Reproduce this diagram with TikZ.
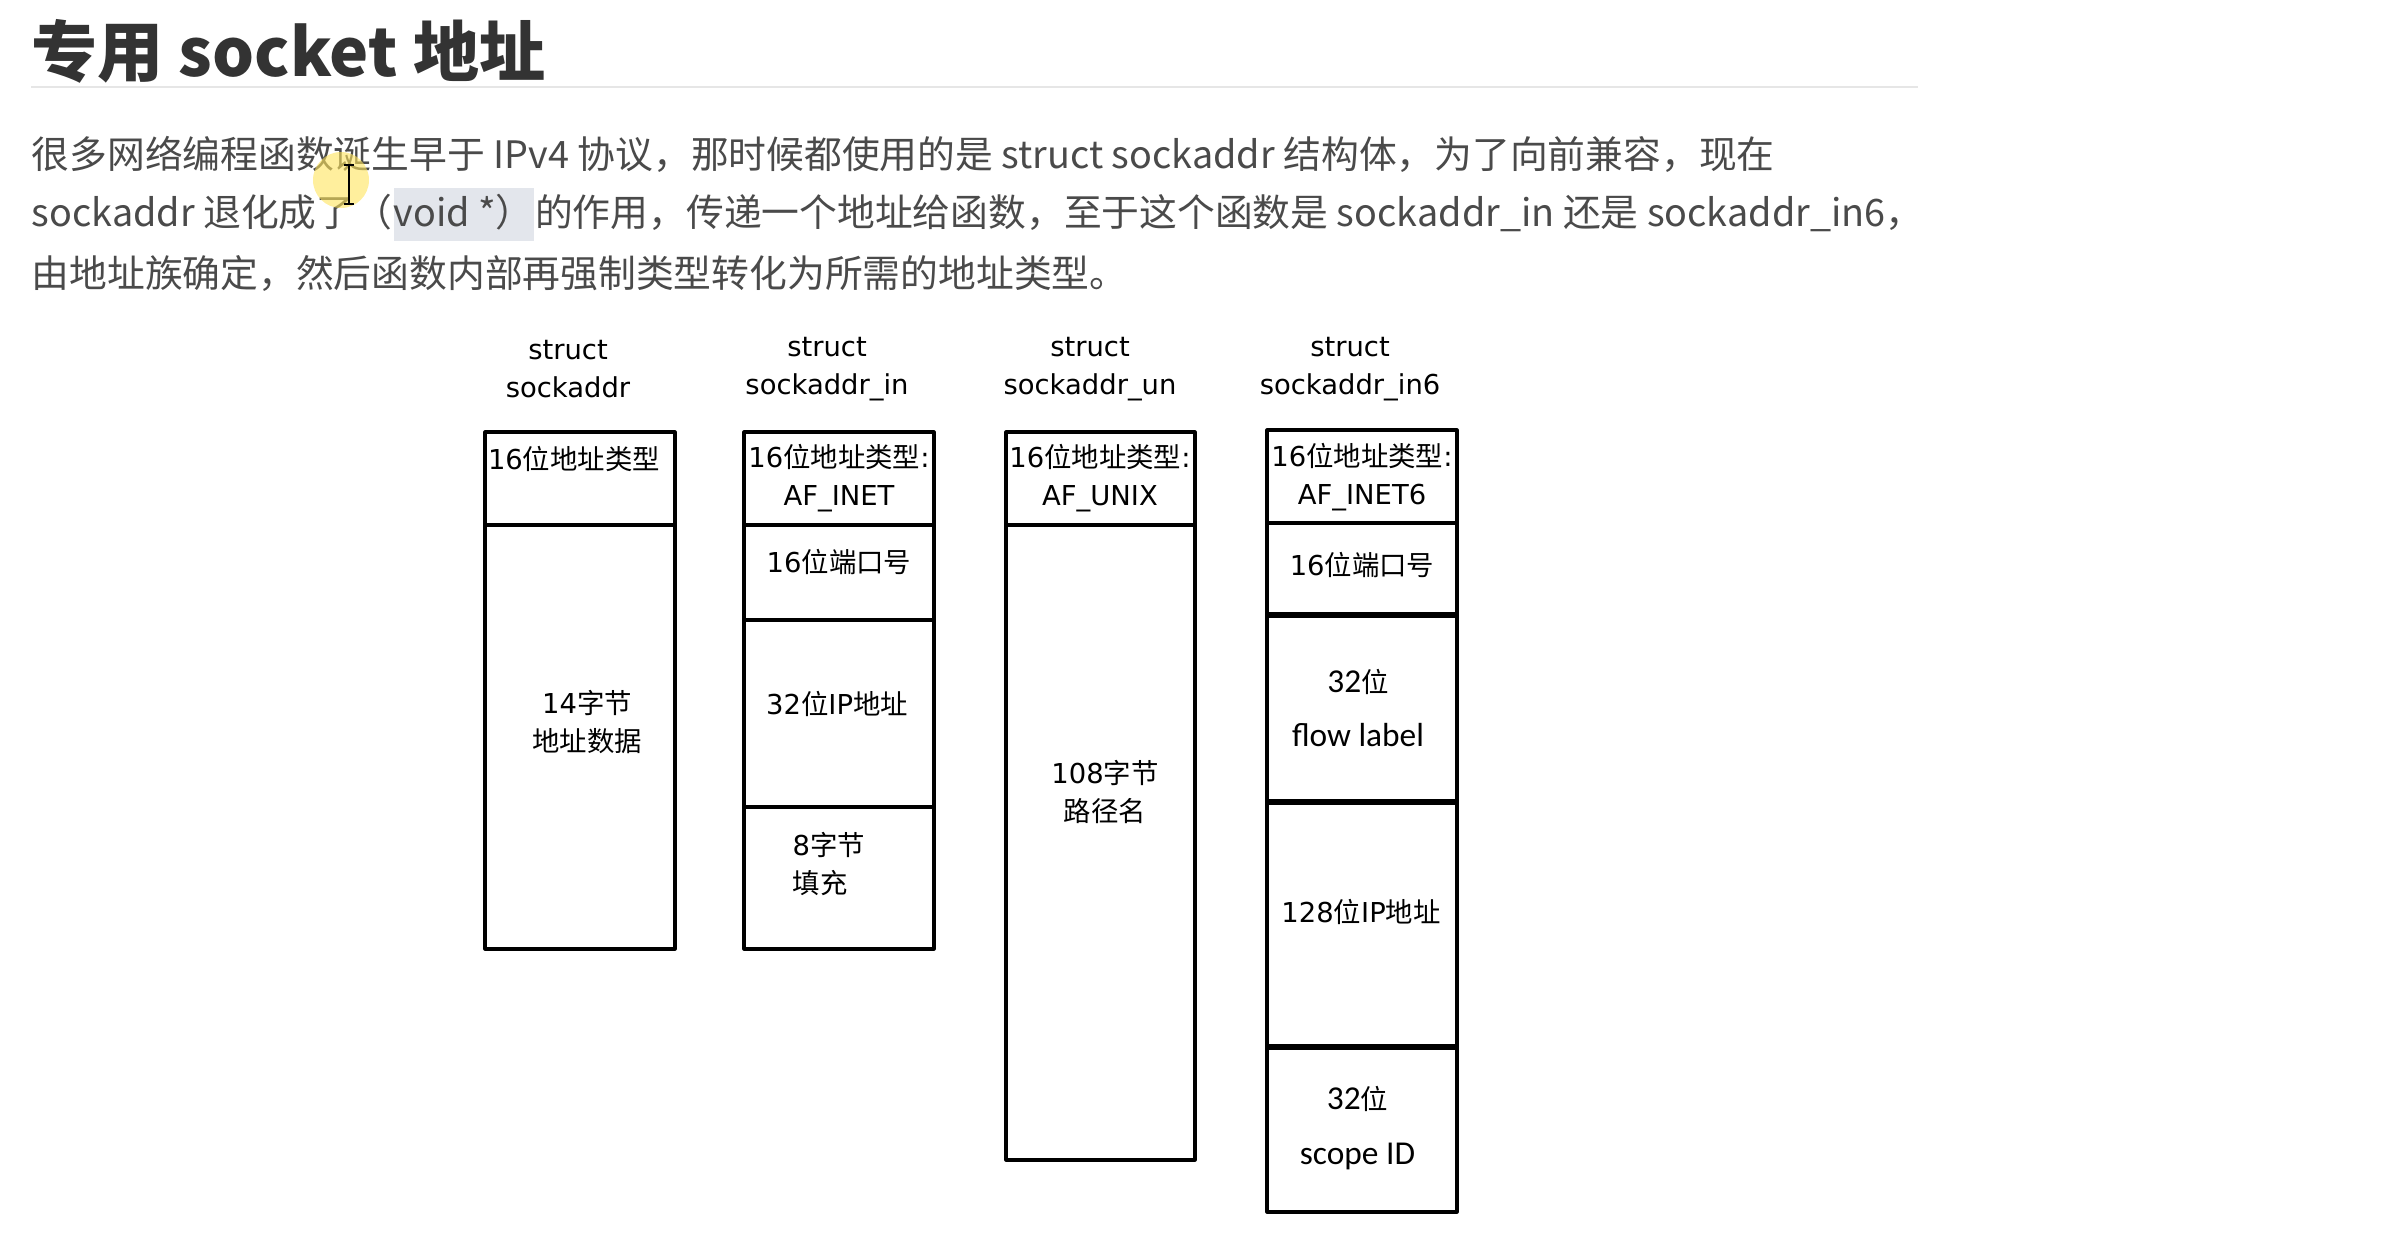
\documentclass[tikz,border=0pt]{standalone}
\usepackage{fontspec}
\setmainfont{DejaVu Sans}
\newfontfamily\zhfont{Noto Sans CJK SC}
\newfontfamily\calfont{Carlito}
\usepackage{xcolor}
\usepackage{tikz}
\usetikzlibrary{positioning}
\definecolor{titlegray}{HTML}{333333}
\definecolor{bodygray}{HTML}{4A4A4A}
\definecolor{rulegray}{HTML}{E6E6E6}
\definecolor{codebg}{HTML}{E3E6EC}
\definecolor{cursorglow}{HTML}{FFE45C}
\newcommand\zh[1]{{\zhfont #1}}
\newcommand\fieldfont{\fontsize{7.8}{10.8}\selectfont}
\newcommand\parafont{\zhfont\fontsize{10.75}{14}\selectfont}
\newcommand\calsize{\calfont\fontsize{9.5}{11}\selectfont}

\begin{document}
\begin{tikzpicture}[line join=round,
  para/.style={anchor=west,inner sep=0pt,text height=9.5pt,text depth=2.5pt,font=\parafont,text=bodygray},
  field/.style={align=center,inner sep=0pt,font=\fieldfont},
  frame/.style={line width=0.9pt},
  thickbar/.style={line width=1.5pt}]
  \useasboundingbox (0,0) rectangle (24,-12.34);
  \node[anchor=west,inner sep=0pt,font=\zhfont\bfseries\fontsize{18.8}{22}\selectfont,text=titlegray] (title) at (0.31,-0.51) {专用 socket 地址};
  \draw[rulegray,line width=0.6pt] (0.31,-0.87) -- (19.18,-0.87);
  \node[para] (p1) at (0.31,-1.56) {很多网络编程函数诞生早于 IPv4 协议，那时候都使用的是 struct sockaddr 结构体，为了向前兼容，现在};
  \node[para] (p2a) at (0.31,-2.14) {sockaddr 退化成了（};
  \node[para,fill=codebg,minimum height=0.53cm] (p2b) at (p2a.east) {void *）};
  \node[para] (p2c) at (p2b.east) {的作用，传递一个地址给函数，至于这个函数是 sockaddr\_in 还是 sockaddr\_in6，};
  \node[para] (p3) at (0.31,-2.75) {由地址族确定，然后函数内部再强制类型转化为所需的地址类型。};
  \fill[cursorglow,opacity=0.6] (3.41,-1.80) circle (0.28);
  \draw[line width=0.7pt] (3.49,-1.65) -- (3.49,-2.04);
  \draw[line width=0.7pt] (3.44,-1.65) -- (3.54,-1.65);
  \draw[line width=0.7pt] (3.44,-2.04) -- (3.54,-2.04);
  \node[field] (lbl1) at (5.68,-3.69) {struct\\sockaddr};
  \node[field] (lbl2) at (8.27,-3.69) {struct\\sockaddr\_in};
  \node[field] (lbl3) at (10.90,-3.69) {struct\\sockaddr\_un};
  \node[field] (lbl4) at (13.50,-3.69) {struct\\sockaddr\_in6};
  \draw[frame] (4.85,-4.32) rectangle (6.75,-9.49);
  \draw[frame] (4.85,-5.25) -- (6.75,-5.25);
  \draw[frame] (7.44,-4.32) rectangle (9.34,-9.49);
  \foreach \y in {-5.25,-6.20,-8.07}
    \draw[frame] (7.44,\y) -- (9.34,\y);
  \draw[frame] (10.06,-4.32) rectangle (11.95,-11.60);
  \draw[frame] (10.06,-5.25) -- (11.95,-5.25);
  \draw[frame] (12.67,-4.30) rectangle (14.57,-12.12);
  \draw[frame] (12.67,-5.23) -- (14.57,-5.23);
  \foreach \y in {-6.15,-8.02,-10.47}
    \draw[thickbar] (12.67,\y) -- (14.57,\y);
  \node[field] (f1a) at (5.74,-4.59) {16\zh{位地址类型}};
  \node[field] (f1b) at (5.87,-7.22) {14\zh{字节}\\\zh{地址数据}};
  \node[field] (f2a) at (8.39,-4.78) {16\zh{位地址类型}:\\AF\_INET};
  \node[field] (f2b) at (8.39,-5.62) {16\zh{位端口号}};
  \node[field] (f2c) at (8.37,-7.04) {32\zh{位}IP\zh{地址}};
  \node[field,anchor=west,align=left] (f2d) at (7.92,-8.64) {8\zh{字节}\\\zh{填充}};
  \node[field] (f3a) at (11.00,-4.78) {16\zh{位地址类型}:\\AF\_UNIX};
  \node[field] (f3b) at (11.05,-7.92) {108\zh{字节}\\\zh{路径名}};
  \node[field] (f4a) at (13.62,-4.77) {16\zh{位地址类型}:\\AF\_INET6};
  \node[field] (f4b) at (13.62,-5.65) {16\zh{位端口号}};
  \node[field] (f4c) at (13.58,-7.08) {{\calsize 32}\zh{位}\\[4.8pt]{\calsize flow label}};
  \node[field] (f4d) at (13.61,-9.12) {128\zh{位}IP\zh{地址}};
  \node[field] (f4e) at (13.575,-11.28) {{\calsize 32}\zh{位}\\[4.8pt]{\calsize scope ID}};
\end{tikzpicture}
\end{document}
